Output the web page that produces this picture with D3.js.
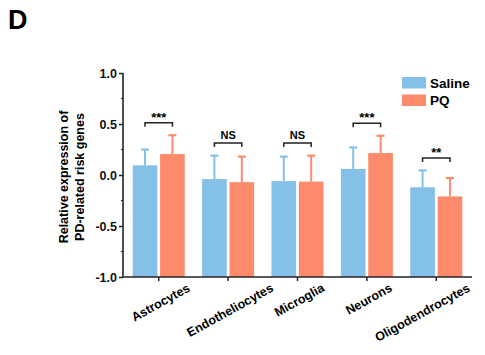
<!DOCTYPE html>
<html><head><meta charset="utf-8">
<script src="https://cdn.jsdelivr.net/npm/d3@7"></script>
<style>body{margin:0;background:#fff}svg{display:block}text{font-family:"Liberation Sans",Arial,sans-serif}</style>
</head><body><svg id="c" width="485" height="355"></svg>
<script>
const categories = ["Astrocytes","Endotheliocytes","Microglia","Neurons","Oligodendrocytes"];
const seriesNames = ["Saline","PQ"];
const salineMean = [0.095,-0.04,-0.06,0.06,-0.12];
const salineErr  = [0.155,0.23,0.24,0.21,0.165];
const pqMean     = [0.205,-0.07,-0.065,0.215,-0.21];
const pqErr      = [0.185,0.25,0.255,0.17,0.18];
const sigLabels  = ["***","NS","NS","***","**"];
const yTicks = [-1.0,-0.5,0.0,0.5,1.0];
const colors = ["#85c0e8","#fd8a6b"];

const svg = d3.select("#c");
const x = d3.scaleBand().domain(categories).range([123,472]).paddingInner(0.25).paddingOuter(0.14);
const xs = d3.scaleBand().domain(seriesNames).range([0,x.bandwidth()]).paddingInner(0.1);
const y = d3.scaleLinear().domain([-1,1]).range([277,73]);

svg.append("text").attr("x",8).attr("y",29).attr("font-size",27).attr("font-weight","bold").text("D");

const series = [
  {name:"Saline", mean:salineMean, err:salineErr},
  {name:"PQ", mean:pqMean, err:pqErr}
];
series.forEach((s,si)=>{
  const g = svg.append("g");
  categories.forEach((c,i)=>{
    const bx = x(c)+xs(s.name), bw = xs.bandwidth();
    const top = s.mean[i], et = s.mean[i]+s.err[i];
    const cx = bx+bw/2;
    g.append("line").attr("x1",cx).attr("x2",cx).attr("y1",y(top)).attr("y2",y(et))
      .attr("stroke",colors[si]).attr("stroke-width",2);
    g.append("line").attr("x1",cx-4).attr("x2",cx+4).attr("y1",y(et)).attr("y2",y(et))
      .attr("stroke",colors[si]).attr("stroke-width",2.2);
    g.append("rect").attr("x",bx).attr("y",y(top)).attr("width",bw).attr("height",y(-1)-y(top))
      .attr("fill",colors[si]);
  });
});

// significance brackets
categories.forEach((c,i)=>{
  const x1 = x(c)+xs("Saline")+xs.bandwidth()/2;
  const x2 = x(c)+xs("PQ")+xs.bandwidth()/2;
  const top = Math.max(salineMean[i]+salineErr[i], pqMean[i]+pqErr[i]);
  const by = y(top) - 12.5;
  svg.append("path").attr("d",`M${x1},${by+4}V${by}H${x2}V${by+4}`)
    .attr("fill","none").attr("stroke","#222").attr("stroke-width",1.5);
  const isStar = sigLabels[i].indexOf("*")>=0;
  svg.append("text").attr("x",(x1+x2)/2).attr("y",isStar? by-1 : by-4)
    .attr("text-anchor","middle").attr("font-size",isStar?13:11).attr("font-weight","bold")
    .text(sigLabels[i]);
});

// y axis
const yAxis = d3.axisLeft(y).tickValues(yTicks).tickFormat(d3.format(".1f")).tickSize(4).tickPadding(2);
const ya = svg.append("g").attr("transform","translate(123,0)").call(yAxis);
ya.select(".domain").attr("stroke","#222").attr("stroke-width",1.6).attr("d","M0,73V277");
ya.selectAll(".tick line").attr("stroke","#222").attr("stroke-width",1.5);
ya.selectAll(".tick text").attr("font-size",12.5).attr("font-weight","bold").attr("fill","#111")
  .text(d=> d<0 ? "-"+Math.abs(d).toFixed(1) : d.toFixed(1));
const minor = d3.range(-0.75,1,0.5);
ya.selectAll(".minor").data(minor).enter().append("line")
  .attr("x1",-2).attr("x2",0).attr("y1",d=>y(d)).attr("y2",d=>y(d)).attr("stroke","#222").attr("stroke-width",1.2);

// x axis
const xAxis = d3.axisBottom(x).tickSize(4).tickFormat("");
const xa = svg.append("g").attr("transform","translate(0,277)").call(xAxis);
xa.select(".domain").attr("stroke","#222").attr("stroke-width",1.6).attr("d","M122,0H472");
xa.selectAll(".tick line").attr("stroke","#222").attr("stroke-width",1.5);

const ang = 29, rad = ang*Math.PI/180;
categories.forEach(c=>{
  const t = svg.append("text").attr("font-size",12.5).attr("font-weight","bold").attr("text-anchor","middle")
    .attr("dominant-baseline","central").text(c);
  const L = t.node().getComputedTextLength();
  let cx = x(c)+x.bandwidth()/2 + 2;
  cx = Math.min(cx, 469 - Math.cos(rad)*L/2);
  const cy = 287 + Math.sin(rad)*L/2;
  t.attr("transform",`translate(${cx},${cy}) rotate(${-ang})`);
});

// y title
const yt = svg.append("text").attr("transform","translate(0,177) rotate(-90)").attr("text-anchor","middle")
  .attr("font-size",12.5).attr("font-weight","bold");
yt.append("tspan").attr("x",0).attr("y",68).text("Relative expression of");
yt.append("tspan").attr("x",0).attr("y",84).text("PD-related risk genes");

// legend
const lg = svg.append("g");
seriesNames.forEach((n,i)=>{
  lg.append("rect").attr("x",402).attr("y",77+i*17.5).attr("width",24).attr("height",11.5).attr("fill",colors[i]);
  lg.append("text").attr("x",430).attr("y",83+i*17.5).attr("dominant-baseline","central")
    .attr("font-size",13.5).attr("font-weight","bold").text(n);
});
</script></body></html>
